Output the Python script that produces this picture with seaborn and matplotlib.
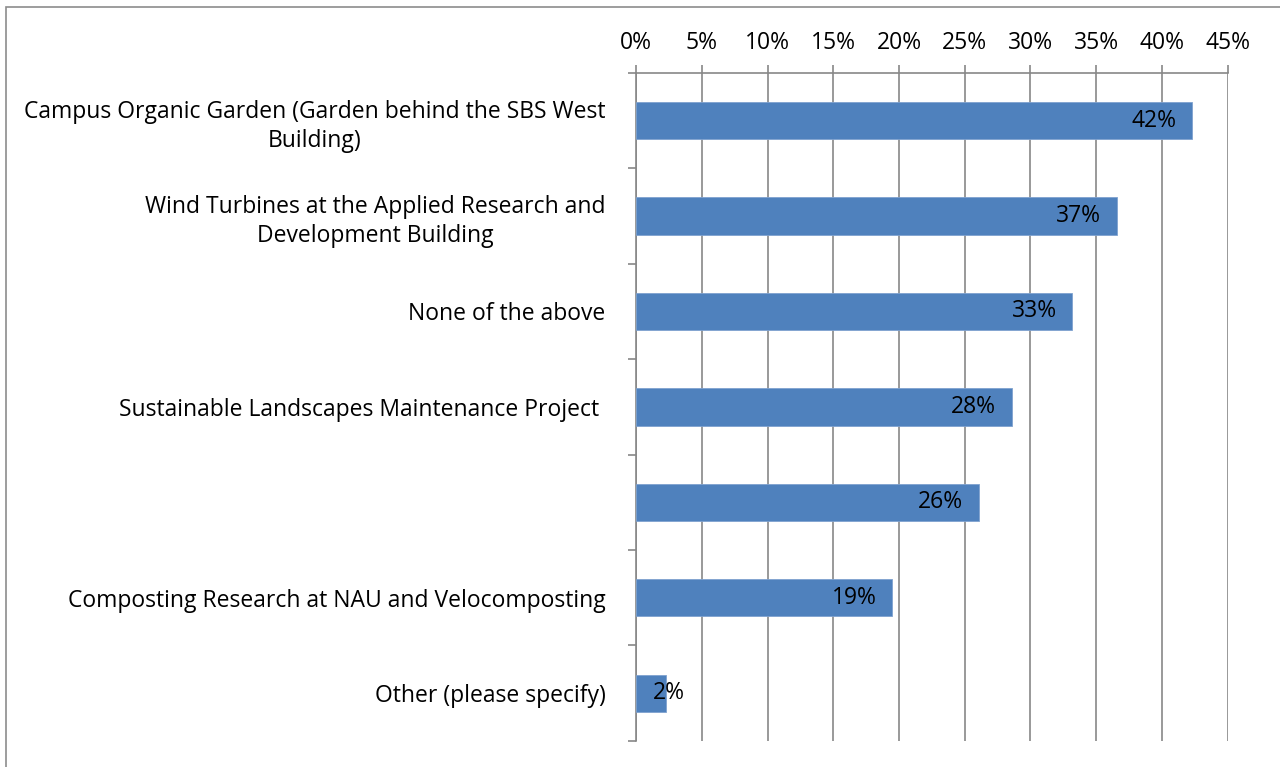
import matplotlib
matplotlib.use("Agg")
import matplotlib.pyplot as plt
import seaborn as sns
import pandas as pd
from matplotlib.ticker import FixedLocator, PercentFormatter
from matplotlib.patches import Rectangle

# datos
categorias = [
    "Campus Organic Garden (Garden behind the SBS West\nBuilding)",
    "Wind Turbines at the Applied Research and\nDevelopment Building",
    "None of the above",
    "Sustainable Landscapes Maintenance Project ",
    " ",
    "Composting Research at NAU and Velocomposting",
    "Other (please specify)",
]
valores = [42.3, 36.6, 33.2, 28.6, 26.1, 19.5, 2.3]
etiquetas = ["42%", "37%", "33%", "28%", "26%", "19%", "2%"]
ticks_x = [0, 5, 10, 15, 20, 25, 30, 35, 40, 45]

df = pd.DataFrame({"categoria": categorias, "valor": valores})

sns.set_style("white")
plt.rcParams["font.family"] = ["Open Sans", "DejaVu Sans"]
plt.rcParams["text.color"] = "black"
plt.rcParams["xtick.labelcolor"] = "black"
plt.rcParams["ytick.labelcolor"] = "black"

fig = plt.figure(figsize=(12.8, 7.67), dpi=100)
ax = fig.add_axes([0.497, 0.034, 0.462, 0.871])

# marco gris alrededor del grafico
fig.patches.append(Rectangle((6 / 1280, -0.1), 1.2, 1 - 7 / 767 + 0.1,
                             transform=fig.transFigure, fill=False,
                             edgecolor="#8c8c8c", linewidth=1.2))

sns.barplot(data=df, x="valor", y="categoria", order=categorias, orient="h",
            color="#4F81BD", saturation=1, width=0.39, edgecolor="#7fa2cf",
            linewidth=0.6, ax=ax, zorder=3)

ax.set_xlim(0, 45)
ax.set_ylim(6.5, -0.5)
ax.set_xticks(ticks_x)
ax.xaxis.set_major_formatter(PercentFormatter(decimals=0))
ax.xaxis.tick_top()
ax.xaxis.set_label_position("top")
ax.set_xlabel("")
ax.set_ylabel("")
ax.grid(axis="x", color="#878787", linewidth=1.2, zorder=0)
ax.set_axisbelow(True)

for s in ["right", "bottom"]:
    ax.spines[s].set_visible(False)
for s in ["top", "left"]:
    ax.spines[s].set_color("#878787")
    ax.spines[s].set_linewidth(1.2)

ax.tick_params(axis="x", which="major", top=True, direction="out", length=6,
               color="#878787", width=1.2, labelsize=16.5, pad=7)
ax.tick_params(axis="y", which="major", left=False, labelsize=16.5, pad=18.5)
ax.yaxis.set_minor_locator(FixedLocator([i - 0.5 for i in range(len(categorias) + 1)]))
ax.tick_params(axis="y", which="minor", left=True, direction="out", length=6,
               color="#878787", width=1.2)
for lbl in ax.get_yticklabels():
    lbl.set_multialignment("center")
    lbl.set_linespacing(1.3)

for i, (v, t) in enumerate(zip(valores, etiquetas)):
    if v > 5:
        ax.text(v - 1.2, i, t, ha="right", va="center", fontsize=16.5, zorder=4)
    else:
        ax.text(v + 0.2, i, t, ha="center", va="center", fontsize=16.5, zorder=4)

fig.savefig("out.png", dpi=100)
